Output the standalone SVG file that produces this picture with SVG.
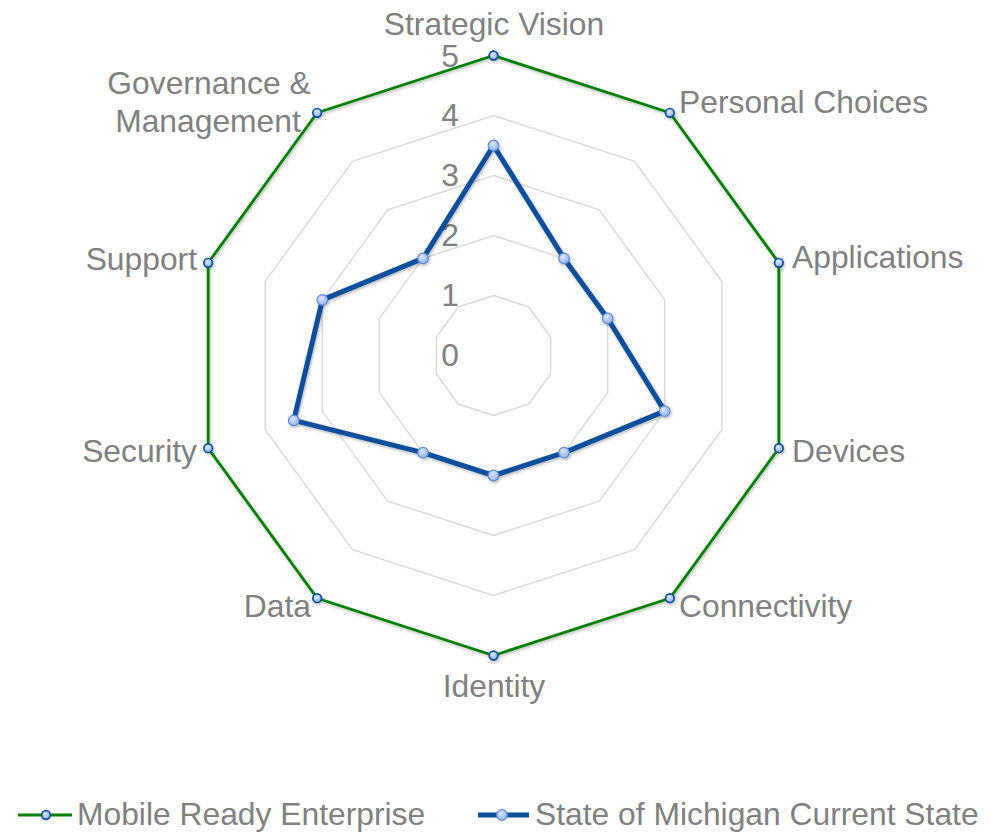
<svg xmlns="http://www.w3.org/2000/svg" width="991" height="832" viewBox="0 0 991 832">
<style>
text{font-family:"Liberation Sans",Arial,sans-serif;font-size:31.8px;fill:#808080}
.grid{fill:none;stroke:#d9d9d9;stroke-width:1.5}
.green{fill:none;stroke:#008000;stroke-width:2.8;stroke-linejoin:round}
.blue{fill:none;stroke:#0a4f9c;stroke-width:5;stroke-linejoin:round}
.gm{fill:url(#mk);stroke:#0a4f9c;stroke-width:1.7}
.bm{fill:url(#mk);stroke:#5d89d6;stroke-width:1.2}
.num{text-anchor:end}
.mid{text-anchor:middle}
.end{text-anchor:end}
</style>
<defs>
<radialGradient id="mk" cx="0.4" cy="0.35" r="0.7">
<stop offset="0" stop-color="#dbe6fa"/>
<stop offset="1" stop-color="#8fb0ea"/>
</radialGradient>
<filter id="sh" x="-10%" y="-10%" width="120%" height="120%">
<feDropShadow dx="1" dy="1.5" stdDeviation="1.5" flood-color="#000" flood-opacity="0.3"/>
</filter>
</defs>
<rect width="991" height="832" fill="#ffffff"/>
<g id="grid">
<polygon class="grid" points="493.5,295.5 528.77,306.96 550.56,336.96 550.56,374.04 528.77,404.04 493.5,415.5 458.23,404.04 436.44,374.04 436.44,336.96 458.23,306.96"/>
<polygon class="grid" points="493.5,235.5 564.03,258.42 607.63,318.42 607.63,392.58 564.03,452.58 493.5,475.5 422.97,452.58 379.37,392.58 379.37,318.42 422.97,258.42"/>
<polygon class="grid" points="493.5,175.5 599.3,209.88 664.69,299.88 664.69,411.12 599.3,501.12 493.5,535.5 387.7,501.12 322.31,411.12 322.31,299.88 387.7,209.88"/>
<polygon class="grid" points="493.5,115.5 634.57,161.34 721.75,281.34 721.75,429.66 634.57,549.66 493.5,595.5 352.43,549.66 265.25,429.66 265.25,281.34 352.43,161.34"/>
<polygon class="grid" points="493.5,55.5 669.84,112.79 778.82,262.79 778.82,448.21 669.84,598.21 493.5,655.5 317.16,598.21 208.18,448.21 208.18,262.79 317.16,112.79"/>
</g>
<g id="scale">
<text class="num" x="459" y="366">0</text>
<text class="num" x="459" y="306">1</text>
<text class="num" x="459" y="246">2</text>
<text class="num" x="459" y="186">3</text>
<text class="num" x="459" y="126">4</text>
<text class="num" x="459" y="67">5</text>
</g>
<g id="labels">
<text id="lbl-strategic" class="mid" x="494" y="35">Strategic Vision</text>
<text id="lbl-personal" x="679" y="113">Personal Choices</text>
<text id="lbl-applications" x="792" y="268">Applications</text>
<text id="lbl-devices" x="792" y="462">Devices</text>
<text id="lbl-connectivity" x="679" y="617">Connectivity</text>
<text id="lbl-identity" class="mid" x="494" y="697">Identity</text>
<text id="lbl-data" class="end" x="311" y="617">Data</text>
<text id="lbl-security" class="end" x="197" y="462">Security</text>
<text id="lbl-support" class="end" x="197" y="270">Support</text>
<text id="lbl-governance" class="mid" x="209" y="94"><tspan x="209">Governance &amp;</tspan><tspan x="208" y="132">Management</tspan></text>
</g>
<g id="connectors">
<g id="series-mobile-ready" filter="url(#sh)">
<polygon class="green" points="493.5,55.5 669.84,112.79 778.82,262.79 778.82,448.21 669.84,598.21 493.5,655.5 317.16,598.21 208.18,448.21 208.18,262.79 317.16,112.79"/>
<circle class="gm" cx="493.5" cy="55.5" r="4.3"/>
<circle class="gm" cx="669.84" cy="112.79" r="4.3"/>
<circle class="gm" cx="778.82" cy="262.79" r="4.3"/>
<circle class="gm" cx="778.82" cy="448.21" r="4.3"/>
<circle class="gm" cx="669.84" cy="598.21" r="4.3"/>
<circle class="gm" cx="493.5" cy="655.5" r="4.3"/>
<circle class="gm" cx="317.16" cy="598.21" r="4.3"/>
<circle class="gm" cx="208.18" cy="448.21" r="4.3"/>
<circle class="gm" cx="208.18" cy="262.79" r="4.3"/>
<circle class="gm" cx="317.16" cy="112.79" r="4.3"/>
</g>
<g id="series-michigan" filter="url(#sh)">
<polygon class="blue" points="493.5,145.5 564.03,258.42 607.63,318.42 664.69,411.12 564.03,452.58 493.5,475.5 422.97,452.58 293.78,420.39 322.31,299.88 422.97,258.42"/>
<circle class="bm" cx="493.5" cy="145.5" r="5.3"/>
<circle class="bm" cx="564.03" cy="258.42" r="5.3"/>
<circle class="bm" cx="607.63" cy="318.42" r="5.3"/>
<circle class="bm" cx="664.69" cy="411.12" r="5.3"/>
<circle class="bm" cx="564.03" cy="452.58" r="5.3"/>
<circle class="bm" cx="493.5" cy="475.5" r="5.3"/>
<circle class="bm" cx="422.97" cy="452.58" r="5.3"/>
<circle class="bm" cx="293.78" cy="420.39" r="5.3"/>
<circle class="bm" cx="322.31" cy="299.88" r="5.3"/>
<circle class="bm" cx="422.97" cy="258.42" r="5.3"/>
</g>
</g>
<g id="legend">
<g id="legend-mobile">
<line class="green" x1="18" y1="815" x2="72" y2="815"/>
<circle class="gm" cx="46" cy="815" r="4.3"/>
<text x="77" y="825">Mobile Ready Enterprise</text>
</g>
<g id="legend-michigan">
<line class="blue" x1="478" y1="815" x2="529" y2="815"/>
<circle class="bm" cx="502" cy="815" r="5.3"/>
<text x="535" y="825">State of Michigan Current State</text>
</g>
</g>
</svg>
